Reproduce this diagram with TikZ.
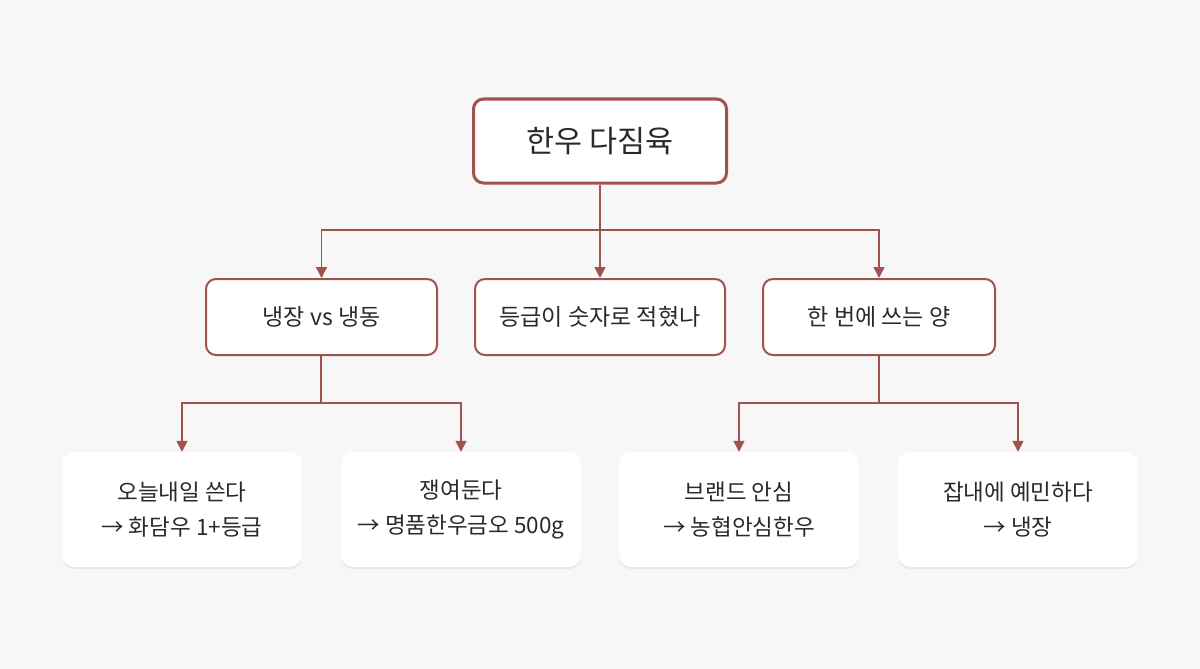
\documentclass[tikz,border=0pt]{standalone}
\usepackage{fontspec}
\setmainfont{Noto Sans CJK KR}
\usetikzlibrary{shadows,arrows.meta}
\definecolor{bg}{HTML}{F7F7F7}
\definecolor{dr}{HTML}{A0524F}
\definecolor{tx}{HTML}{2A2A2A}
\begin{document}
\begin{tikzpicture}[x=1pt,y=-1pt,
 root/.style={draw=dr,line width=3pt,fill=white,rounded corners=10pt,minimum width=253pt,minimum height=84pt,font=\fontsize{30.5}{36}\selectfont,text=tx},
 mid/.style={draw=dr,line width=2pt,fill=white,rounded corners=10pt,minimum height=76pt,font=\fontsize{23}{28}\selectfont,text=tx},
 leaf/.style={fill=white,rounded corners=12pt,minimum width=240pt,minimum height=115pt,align=center,font=\fontsize{22.5}{35}\selectfont,text=tx,drop shadow={shadow xshift=0pt,shadow yshift=-2pt,opacity=0.12}},
 con/.style={draw=dr,line width=1.5pt},
 arr/.style={con,-{Triangle[length=11pt,width=11pt]}}]
\fill[bg] (0,0) rectangle (1200,669);
\node[root] (r) at (600,141) {한우 다짐육};
\node[mid,minimum width=231pt] (a) at (321.5,317) {냉장 vs 냉동};
\node[mid,minimum width=250pt] (b) at (600,317) {등급이 숫자로 적혔나};
\node[mid,minimum width=232pt] (c) at (879,317) {한 번에 쓰는 양};
\node[leaf] (l1) at (182,509.5) {오늘내일 쓴다\\→ 화담우 1+등급};
\node[leaf] (l2) at (461,509.5) {쟁여둔다\\→ 명품한우금오 500g};
\node[leaf] (l3) at (739,509.5) {브랜드 안심\\→ 농협안심한우};
\node[leaf] (l4) at (1018,509.5) {잡내에 예민하다\\→ 냉장};
\coordinate (j0) at (600,230);
\coordinate (ja) at (321,403);
\coordinate (jc) at (879,403);
\draw[con] (r.south) -- (j0);
\draw[arr] (j0) -| (a.north);
\draw[arr] (j0) -- (b.north);
\draw[arr] (j0) -| (c.north);
\draw[con] (a.south -| ja) -- (ja);
\draw[arr] (ja) -| (l1.north);
\draw[arr] (ja) -| (l2.north);
\draw[con] (c.south) -- (jc);
\draw[arr] (jc) -| (l3.north);
\draw[arr] (jc) -| (l4.north);
\end{tikzpicture}
\end{document}
